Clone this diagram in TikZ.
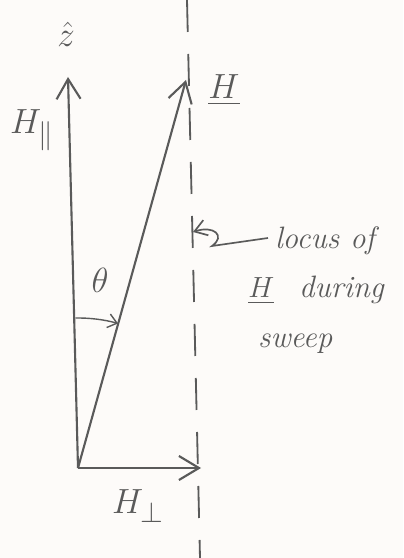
\documentclass[tikz,border=0pt]{standalone}
\usepackage{tikz}
\usetikzlibrary{arrows.meta,positioning,calc}
\usepackage{amssymb}
\definecolor{pencil}{RGB}{90,90,90}
\definecolor{paper}{RGB}{253,251,249}

\begin{document}
\begin{tikzpicture}[
  x=0.025cm, y=0.025cm,
  every node/.style={font=\Huge, text=pencil},
  vec/.style={draw=pencil, line width=1.5pt, -{Straight Barb[length=5mm, width=6mm]}},
  locus/.style={draw=pencil, line width=1.3pt, dash pattern=on 0.8cm off 0.55cm},
  note/.style={font=\fontsize{22}{35}\selectfont\itshape, align=left, inner sep=0pt}
]
\fill[paper] (0,0) rectangle (403,558);
\useasboundingbox (0,0) rectangle (403,558);

% points of the vector triangle
\coordinate (O) at (78,90);
\coordinate (ztip) at (68,481);
\coordinate (Htip) at (186,478);
\coordinate (Hperp) at (201,90);
\coordinate (ltop) at (187,558);
\coordinate (lbot) at (200,0);

% locus line, drawn first
\draw[locus] (ltop) -- (lbot);

\draw[vec] (O) -- (ztip);
\draw[vec] (O) -- (Htip);
\draw[vec] (O) -- (Hperp);

% angle between z and H
\draw[draw=pencil, line width=1pt, -{Straight Barb[length=2.2mm, width=3.5mm]}]
  (O) ++(91:150) arc[start angle=91, end angle=74.5, radius=150];

\node (zlab) at (66,524) {$\hat{z}$};
\node (Hpar) at (32,428) {$H_{\parallel}$};
\node (Hlab) at (224,468) {$\underline{H}$};
\node (theta) at (100,278) {$\theta$};
\node (Hperplab) at (138,52) {$H_{\perp}$};

\node[note, anchor=west] (txt) at (248,268)
  {\hspace{19pt}locus of\\ $\underline{H}$\hspace{10pt} during\\ \hspace{7pt}sweep};
\coordinate (lpt) at (193,326);
\coordinate (tail) at (268,320);
\draw[draw=pencil, line width=1.2pt, -{Straight Barb[length=3mm, width=4mm]}]
  (tail) -- (212,312) .. controls (226,322) and (214,333) .. (lpt);
\end{tikzpicture}
\end{document}
